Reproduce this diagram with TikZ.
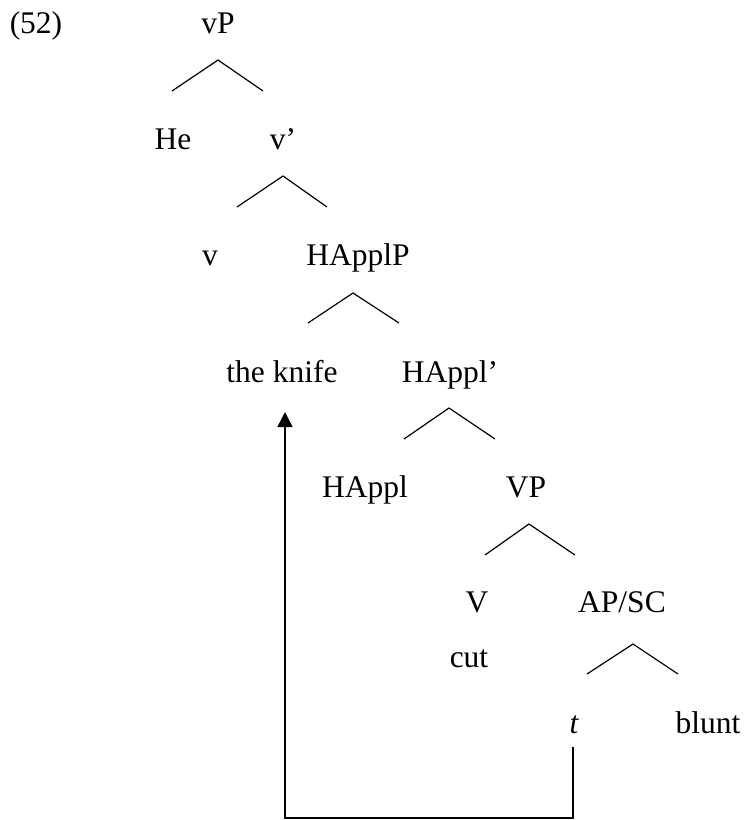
\documentclass[tikz,border=0pt]{standalone}
\usepackage{fontspec}
\setmainfont{Liberation Serif}
\usetikzlibrary{arrows.meta}
\begin{document}
\begin{tikzpicture}[x=1pt,y=-1pt,
  lbl/.style={anchor=base,inner sep=0pt,font=\fontsize{31.5}{38}\selectfont},
  branch/.style={line width=1.2pt},
  mv/.style={line width=1.4pt}]
\useasboundingbox (0,0) rectangle (744,820);
% labels
\node[lbl] (ex) at (36,33) {(52)};
\node[lbl] (vP) at (218,33) {vP};
\node[lbl] (He) at (173,149) {He};
\node[lbl] (vbar) at (283,149) {v’};
\node[lbl] (v) at (210,265) {v};
\node[lbl] (HApplP) at (358,265) {HApplP};
\node[lbl] (knife) at (282,382) {the knife};
\node[lbl] (HApplbar) at (450,382) {HAppl’};
\node[lbl] (HAppl) at (365,497) {HAppl};
\node[lbl] (VP) at (526,497) {VP};
\node[lbl] (V) at (477,612) {V};
\node[lbl] (APSC) at (622,612) {AP/SC};
\node[lbl] (cut) at (469,667) {cut};
\node[lbl] (t) at (574,733) {\itshape t};
\node[lbl] (blunt) at (708,733) {blunt};
% branch points
\coordinate (a1) at (218,60);  \coordinate (l1) at (172,91);  \coordinate (r1) at (263,91);
\coordinate (a2) at (283,176); \coordinate (l2) at (237,207); \coordinate (r2) at (327,207);
\coordinate (a3) at (353,293); \coordinate (l3) at (308,323); \coordinate (r3) at (399,323);
\coordinate (a4) at (449,408); \coordinate (l4) at (404,439); \coordinate (r4) at (495,439);
\coordinate (a5) at (529,524); \coordinate (l5) at (485,555); \coordinate (r5) at (575,555);
\coordinate (a6) at (633,644); \coordinate (l6) at (587,674); \coordinate (r6) at (678,674);
\foreach \i in {1,...,6}{\draw[branch] (l\i) -- (a\i) -- (r\i);}
% movement arrow
\coordinate (ts) at (573,747);
\coordinate (tb) at (573,818);
\coordinate (kb) at (285,818);
\coordinate (kt) at (285,412);
\draw[mv,-{Triangle[width=15pt,length=15pt]}] (ts) -- (tb) -- (kb) -- (kt);
\end{tikzpicture}
\end{document}
